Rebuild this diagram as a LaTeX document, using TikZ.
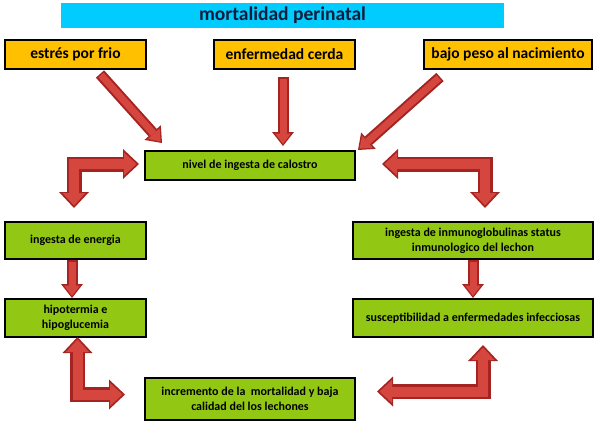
\documentclass[tikz,border=0pt]{standalone}
\usepackage{fontspec}
\setmainfont{Carlito}
\usetikzlibrary{arrows.meta,calc}
\definecolor{titlecyan}{RGB}{0,204,255}
\definecolor{titletext}{RGB}{15,30,60}
\definecolor{boxyellow}{RGB}{255,192,0}
\definecolor{boxgreen}{RGB}{146,200,20}
\definecolor{arrdark}{RGB}{165,36,34}
\definecolor{arrmid}{RGB}{212,70,62}
\tikzset{
  titlebox/.style={fill=titlecyan, inner sep=0pt, outer sep=0pt, minimum width=443pt, minimum height=25pt, text=titletext, font=\bfseries\fontsize{19.5}{22}\selectfont},
  ybox/.style={draw=black, line width=2.5pt, fill=boxyellow, inner sep=0pt, outer sep=0pt, minimum height=29pt, font=\bfseries\fontsize{15.5}{17}\selectfont},
  gbox/.style={draw=black, line width=2.5pt, fill=boxgreen, inner sep=0pt, outer sep=0pt, align=center, font=\bfseries\fontsize{12}{15}\selectfont},
  elbowA/.style={draw=arrdark, line width=15pt, line join=miter,
    {Triangle[width=30pt,length=16pt,line width=0pt]}-{Triangle[width=30pt,length=16pt,line width=0pt]}},
  elbowB/.style={draw=arrmid, line width=10pt, line join=miter, shorten <=2.5pt, shorten >=2.5pt,
    {Triangle[width=23pt,length=12.5pt,line width=0pt]}-{Triangle[width=23pt,length=12.5pt,line width=0pt]}},
  arrA/.style={draw=arrdark, line width=11pt, -{Triangle[width=22pt,length=14pt,line width=0pt]}},
  arrB/.style={draw=arrmid, line width=7pt, shorten <=1.5pt, shorten >=2pt, -{Triangle[width=16pt,length=10.5pt,line width=0pt]}}
}
\begin{document}
\begin{tikzpicture}[x=1pt,y=-1pt]
\useasboundingbox (0,0) rectangle (599,423);
% title
\node[titlebox] (title) at (282.5,15.5) {mortalidad perinatal};
% causes
\node[ybox, minimum width=141pt] (estres) at (75.5,54.5) {estrés por frio};
\node[ybox, minimum width=141pt] (enf) at (284.5,54.5) {enfermedad cerda};
\node[ybox, minimum width=168pt] (bajo) at (508,54.5) {bajo peso al nacimiento};
% green boxes
\node[gbox, minimum width=210pt, minimum height=29pt] (nivel) at (250,165.5) {nivel de ingesta de calostro};
\node[gbox, minimum width=141pt, minimum height=37pt] (energia) at (75.5,240.5) {ingesta de energia};
\node[gbox, minimum width=141pt, minimum height=38pt] (hipo) at (75.5,318) {hipotermia e\\hipoglucemia};
\node[gbox, minimum width=210pt, minimum height=42pt] (incr) at (250,399) {incremento de la\ \ mortalidad y baja\\calidad del los lechones};
\node[gbox, minimum width=240pt, minimum height=37pt] (inmuno) at (473,240.5) {ingesta de inmunoglobulinas status\\inmunologico del lechon};
\node[gbox, minimum width=240pt, minimum height=38pt] (susc) at (473,318) {susceptibilidad a enfermedades infecciosas};
% arrow end points
\coordinate (s1) at ($(estres.south)+(24.5,5)$);
\coordinate (e1) at ($(nivel.north west)+(17,-8)$);
\coordinate (s2) at ($(enf.south)+(-1.5,8)$);
\coordinate (e2) at ($(nivel.north)+(33,-5)$);
\coordinate (s3) at ($(bajo.south)+(-68,8)$);
\coordinate (e3) at ($(nivel.north east)+(3,-1)$);
\coordinate (tl1) at ($(nivel.west)+(-6,-1.5)$);
\coordinate (tl2) at ($(energia.north)+(-1.5,-14)$);
\coordinate (tr1) at ($(nivel.east)+(27,-1.5)$);
\coordinate (tr2) at ($(inmuno.north)+(12,-14)$);
\coordinate (s6) at ($(energia.south)+(-3.5,1)$);
\coordinate (e6) at ($(hipo.north)+(-3.5,-1)$);
\coordinate (s7) at ($(inmuno.south)+(0,1)$);
\coordinate (e7) at ($(susc.north)+(0,-1)$);
\coordinate (bl1) at ($(hipo.south)+(2,0)$);
\coordinate (bl2) at ($(incr.west)+(-20,-4.5)$);
\coordinate (br1) at ($(susc.south)+(10,8)$);
\coordinate (br2) at ($(incr.east)+(22,-7.5)$);
% straight arrows
\foreach \a/\b in {s1/e1,s2/e2,s3/e3,s6/e6,s7/e7}{
  \draw[arrA] (\a) -- (\b);
  \draw[arrB] (\a) -- (\b);
}
% elbow arrows
\draw[elbowA] (tl1) -| (tl2);
\draw[elbowB] (tl1) -| (tl2);
\draw[elbowA] (tr1) -| (tr2);
\draw[elbowB] (tr1) -| (tr2);
\draw[elbowA] (bl1) |- (bl2);
\draw[elbowB] (bl1) |- (bl2);
\draw[elbowA] (br1) |- (br2);
\draw[elbowB] (br1) |- (br2);
\end{tikzpicture}
\end{document}
